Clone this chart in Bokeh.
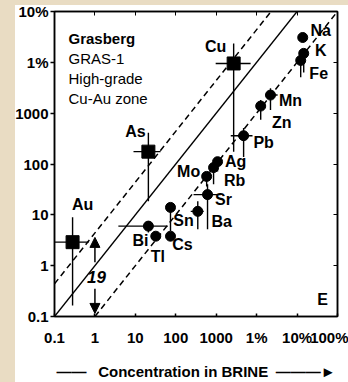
from bokeh.plotting import figure
from bokeh.models import (LogAxis, FixedTicker, Label, Arrow, NormalHead, Range1d,
                          ColumnDataSource, GlobalInlineStyleSheet)
from bokeh.core.properties import value
from bokeh.embed import file_html
from bokeh.resources import INLINE

# ---------------- data (ppm) ----------------
elements = ["Au", "As", "Cu", "Na", "K", "Fe", "Mn", "Zn", "Pb", "Ag", "Rb", "Mo",
            "Sr", "Ba", "Sn", "Bi", "Tl", "Cs"]
brine = [0.28, 21, 2700, 1.38e5, 1.46e5, 1.23e5, 2.2e4, 1.26e4, 4760, 1080, 860, 580,
         610, 350, 74, 21, 32, 74]
vapor = [2.9, 175, 9500, 3.08e4, 1.5e4, 1.09e4, 2270, 1380, 360, 111, 85, 57,
         25, 11.7, 14, 6.0, 3.8, 3.8]
brine_lo = [0.071, 9.0, 970, 1.38e5, 1.46e5, 1.23e5, 1.66e4, 1.26e4, 2290, 1080, 860, 580,
            275, 234, 74, 3.8, 32, 74]
brine_hi = [0.70, 42, 7100, 1.38e5, 1.46e5, 1.23e5, 3.3e4, 1.26e4, 7900, 1080, 860, 580,
            1290, 490, 74, 63, 32, 74]
vapor_lo = [0.164, 18.5, 175, 3.08e4, 6300, 5100, 1150, 740, 138, 71, 40, 36,
            5.2, 5.2, 4.8, 4.5, 3.8, 3.8]
vapor_hi = [9.0, 410, 23400, 3.08e4, 1.5e4, 1.09e4, 3100, 1820, 510, 111, 85, 57,
            40, 18.6, 14, 6.0, 3.8, 3.8]
square_elements = ["Au", "As", "Cu"]

upper_factor = 4.4     # dashed line above 1:1
lower_factor = 0.1     # dashed line below 1:1
arrow_up = (1.0, 1.17, 3.6)
arrow_down = (1.0, 0.35, 0.115)

x_ticks = [0.1, 1, 10, 100, 1000, 1e4, 1e5, 1e6]
x_tick_labels = ["0.1", "1", "10", "100", "1000", "1%", "10%", "100%"]
y_ticks = [0.1, 1, 10, 100, 1000, 1e4, 1e5]
y_tick_labels = ["0.1", "1", "10", "100", "1000", "1%", "10%"]
x_title = "\u2014\u2014\u2002 Concentration in BRINE\u2002\u2014\u2014\u2014\u25BA"
info_lines = ["Grasberg", "GRAS-1", "High-grade", "Cu-Au zone"]

# label offsets (px) relative to each point
label_dx = {"Au": 10, "As": -13, "Cu": -18, "Na": 18, "K": 17, "Fe": 18, "Mn": 20, "Zn": 21,
            "Pb": 20, "Ag": 18, "Rb": 21, "Mo": -18, "Sr": 16, "Ba": 24, "Sn": 13, "Bi": -8,
            "Tl": 2, "Cs": 12}
label_dy = {"Au": -38, "As": -20, "Cu": -17, "Na": -7, "K": -3, "Fe": 13, "Mn": 5, "Zn": 16,
            "Pb": 7, "Ag": 0, "Rb": 13, "Mo": -5, "Sr": 5, "Ba": 10, "Sn": 13, "Bi": 14,
            "Tl": 20, "Cs": 8}

FONT = "Liberation Sans"
XMIN, XMAX = x_ticks[0], x_ticks[-1]
YMIN, YMAX = y_ticks[0], y_ticks[-1]

p = figure(width=348, height=382, x_axis_type="log", y_axis_type="log",
           x_range=Range1d(XMIN, XMAX), y_range=Range1d(YMIN, YMAX),
           output_backend="svg", toolbar_location=None,
           min_border_left=54, min_border_right=11, min_border_top=11, min_border_bottom=64,
           background_fill_color="white", border_fill_color=None)
p.stylesheets = [GlobalInlineStyleSheet(css=(
    "body{background:linear-gradient(to bottom,#e9dcc3 0,#e9dcc3 5px,transparent 5px),"
    "linear-gradient(to right,#e9dcc3 0,#e9dcc3 15px,#ffffff 15px);}"))]
p.grid.visible = False
p.outline_line_color = "black"
p.outline_line_width = 1.5

for ax, ticks, labels in ((p.xaxis[0], x_ticks, x_tick_labels), (p.yaxis[0], y_ticks, y_tick_labels)):
    ax.ticker = FixedTicker(ticks=ticks, minor_ticks=[])
    ax.major_label_overrides = {t: l for t, l in zip(ticks, labels)}
    ax.major_label_text_font = FONT
    ax.major_label_text_font_style = "bold"
    ax.major_label_text_font_size = "15px"
    ax.major_label_text_color = "black"
    ax.axis_line_width = 1.5
    ax.major_tick_line_width = 1.5
    ax.minor_tick_line_color = None
p.xaxis.major_tick_in = 3
p.xaxis.major_tick_out = 0
p.xaxis.major_label_standoff = 12
p.xaxis.axis_label = x_title
p.xaxis.axis_label_text_font = FONT
p.xaxis.axis_label_text_font_style = "bold"
p.xaxis.axis_label_text_font_size = "15px"
p.xaxis.axis_label_text_color = "black"
p.xaxis.axis_label_standoff = 14
p.yaxis.major_tick_in = 0
p.yaxis.major_tick_out = 4
p.yaxis.major_label_standoff = 2

top = LogAxis(ticker=FixedTicker(ticks=x_ticks, minor_ticks=[]), major_tick_in=4, major_tick_out=0,
              major_label_text_font_size="1px", major_label_text_alpha=0, major_label_standoff=0,
              axis_line_width=1.5, minor_tick_line_color=None)
right = LogAxis(ticker=FixedTicker(ticks=y_ticks, minor_ticks=[]), major_tick_in=4, major_tick_out=0,
                major_label_text_font_size="1px", major_label_text_alpha=0, major_label_standoff=0,
                axis_line_width=1.5, minor_tick_line_color=None)
p.add_layout(top, "above")
p.add_layout(right, "right")

# reference lines
p.line([XMIN, YMAX], [XMIN, YMAX], line_color="black", line_width=1.3)
p.line([XMIN, YMAX / upper_factor], [XMIN * upper_factor, YMAX], line_color="black",
       line_width=1.5, line_dash="6 4")
p.line([YMIN / lower_factor, XMAX], [YMIN, XMAX * lower_factor], line_color="black",
       line_width=1.5, line_dash="6 4")

# error bars
src = ColumnDataSource(dict(el=elements, x=brine, y=vapor, xlo=brine_lo, xhi=brine_hi,
                            ylo=vapor_lo, yhi=vapor_hi,
                            dx=[label_dx[e] for e in elements], dy=[label_dy[e] for e in elements]))
p.segment("xlo", "y", "xhi", "y", source=src, line_color="black", line_width=1.4)
p.segment("x", "ylo", "x", "yhi", source=src, line_color="black", line_width=1.4)

sq = [i for i, e in enumerate(elements) if e in square_elements]
ci = [i for i, e in enumerate(elements) if e not in square_elements]
p.scatter([brine[i] for i in sq], [vapor[i] for i in sq], marker="square", size=13,
          fill_color="black", line_color="black")
p.scatter([brine[i] for i in ci], [vapor[i] for i in ci], marker="circle", size=10,
          fill_color="black", line_color="black")

p.text("x", "y", text="el", source=src, x_offset="dx", y_offset="dy",
       text_font=value(FONT), text_font_style="bold", text_font_size="16px",
       text_align="center", text_baseline="middle", text_color="black")

# arrows with factor
for (ax_, y0, y1) in (arrow_up, arrow_down):
    p.add_layout(Arrow(x_start=ax_, y_start=y0, x_end=ax_, y_end=y1, line_width=1.5,
                       end=NormalHead(size=10, fill_color="black", line_color="black")))
p.add_layout(Label(x=96, y=276, x_units="canvas", y_units="canvas", text="19",
                   text_font=FONT, text_font_style="bold italic", text_font_size="17px",
                   text_color="black", text_align="center", text_baseline="middle"))

# info block
for i, t in enumerate(info_lines):
    p.add_layout(Label(x=68, y=37.5 + 20 * i, x_units="canvas", y_units="canvas", text=t,
                       text_font=FONT, text_font_style="bold" if i == 0 else "normal",
                       text_font_size="15px", text_color="black",
                       text_align="left", text_baseline="middle"))
p.add_layout(Label(x=322, y=299, x_units="canvas", y_units="canvas", text="E",
                   text_font=FONT, text_font_style="bold", text_font_size="16px",
                   text_color="black", text_align="center", text_baseline="middle"))

open("out.html", "w").write(file_html(p, INLINE))
